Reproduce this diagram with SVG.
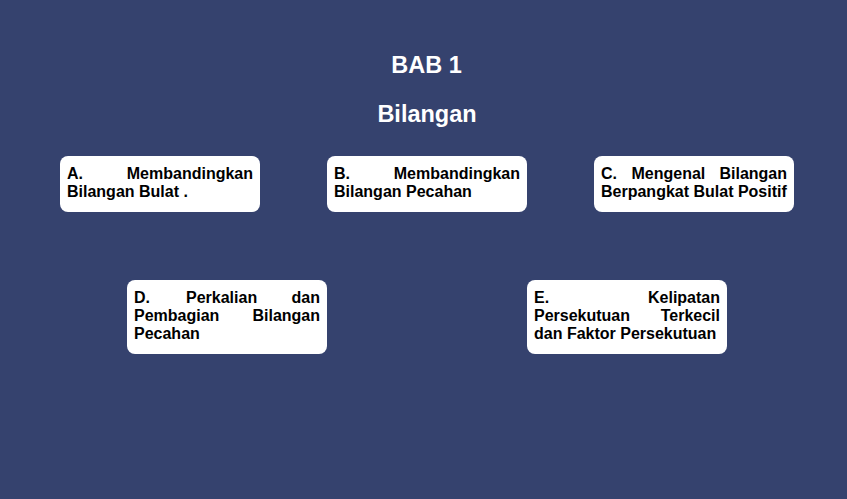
<svg xmlns="http://www.w3.org/2000/svg" width="847" height="499" viewBox="0 0 847 499">
<style>
.bg{fill:#35426e}
.title{font-family:"Liberation Sans",Arial,sans-serif;font-weight:bold;font-size:23.5px;fill:#ffffff;text-anchor:middle}
.box{fill:#ffffff}
.t{font-family:"Liberation Sans",Arial,sans-serif;font-weight:bold;font-size:16px;fill:#000000}
.e{text-anchor:end}
</style>
<rect class="bg" x="0" y="0" width="847" height="499"/>
<g id="title">
<text class="title" x="426.5" y="72.7">BAB 1</text>
<text class="title" x="427" y="121.7">Bilangan</text>
</g>
<g id="connectors"></g>
<g id="nodeA">
<rect class="box" x="60" y="156" width="200" height="56" rx="8"/>
<text class="t" x="67" y="179.3">A.</text>
<text class="t e" x="253" y="179.3">Membandingkan</text>
<text class="t" x="67" y="196.9">Bilangan Bulat .</text>
</g>
<g id="nodeB">
<rect class="box" x="327" y="156" width="200" height="56" rx="8"/>
<text class="t" x="334" y="179.3">B.</text>
<text class="t e" x="520" y="179.3">Membandingkan</text>
<text class="t" x="334" y="196.9">Bilangan Pecahan</text>
</g>
<g id="nodeC">
<rect class="box" x="594" y="156" width="200" height="56" rx="8"/>
<text class="t" x="601" y="179.3">C.</text>
<text class="t" x="631.5" y="179.3">Mengenal</text>
<text class="t e" x="787" y="179.3">Bilangan</text>
<text class="t" x="601" y="196.9">Berpangkat Bulat Positif</text>
</g>
<g id="nodeD">
<rect class="box" x="127" y="280" width="200" height="74" rx="8"/>
<text class="t" x="134" y="303.3">D.</text>
<text class="t" x="186" y="303.3">Perkalian</text>
<text class="t e" x="320" y="303.3">dan</text>
<text class="t" x="134" y="320.9">Pembagian</text>
<text class="t e" x="320" y="320.9">Bilangan</text>
<text class="t" x="134" y="338.5">Pecahan</text>
</g>
<g id="nodeE">
<rect class="box" x="527" y="280" width="200" height="74" rx="8"/>
<text class="t" x="534" y="303.3">E.</text>
<text class="t e" x="720" y="303.3">Kelipatan</text>
<text class="t" x="534" y="320.9">Persekutuan</text>
<text class="t e" x="720" y="320.9">Terkecil</text>
<text class="t" x="534" y="338.5">dan Faktor Persekutuan</text>
</g>
</svg>
